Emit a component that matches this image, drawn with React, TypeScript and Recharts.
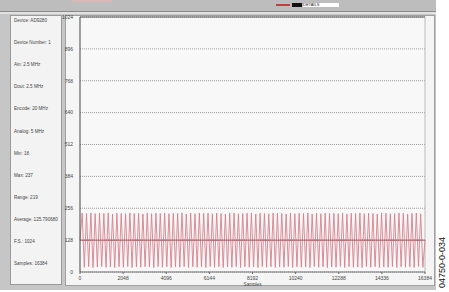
import React from 'react';
import { LineChart, Line, XAxis, YAxis, CartesianGrid, ReferenceLine } from 'recharts';

// info panel text on the left
const infoLabels = [
  'Device: AD9280',
  'Device Number: 1',
  'Ain: 2.5 MHz',
  'Dout: 2.5 MHz',
  'Encode: 20 MHz',
  'Analog: 5 MHz',
  'Min: 18',
  'Max: 237',
  'Range: 219',
  'Average: 125.790680',
  'F.S.: 1024',
  'Samples: 16384',
];

const yTicks = [0, 128, 256, 384, 512, 640, 768, 896, 1024];
const xTicks = [0, 2048, 4096, 6144, 8192, 10240, 12288, 14336, 16384];

// output codes as displayed (decimated capture)
const codes = [
  128, 236, 19, 235, 21, 237, 18, 234, 20, 236, 22, 235, 19, 237, 20, 233,
  18, 236, 21, 235, 19, 234, 22, 237, 18, 235, 20, 236, 19, 233, 21, 237,
  20, 234, 18, 236, 22, 235, 19, 237, 21, 234, 18, 236, 20, 235, 19, 237,
  22, 233, 18, 236, 21, 234, 19, 237, 20, 235, 18, 236, 22, 234, 19, 237,
  21, 235, 18, 233, 20, 236, 19, 237, 22, 234, 18, 235, 21, 236, 19, 237,
  20, 233, 18, 236, 22, 235, 19, 234, 21, 237, 18, 236, 20, 235, 19, 233,
  22, 237, 18, 234, 21, 236, 19, 235, 20, 237, 18, 233, 22, 236, 19, 234,
  21, 237, 18, 235, 20, 236, 19, 234, 22, 237, 18, 233, 21, 236, 19, 235,
  20, 237, 18, 234, 22, 236, 19, 235, 21, 233, 18, 237, 20, 236, 19, 234,
  22, 235, 18, 237, 21, 236, 19, 233, 20, 235, 18, 237, 22, 234, 19, 128,
];

const data = codes.map((v, i) => ({ sample: (i * 16384) / (codes.length - 1), code: v }));

const tickStyle = { fontSize: 5, fill: '#444', fontFamily: 'Arial, Liberation Sans, sans-serif' };

const App: React.FC = () => {
  return (
    <div
      style={{
        position: 'fixed',
        left: 0,
        top: 0,
        width: 449,
        height: 292,
        background: '#fff',
        overflow: 'hidden',
        fontFamily: 'Arial, Liberation Sans, sans-serif',
      }}
    >
      {/* window frame */}
      <div style={{ position: 'absolute', left: 0, top: 0, width: 436, height: 290, background: '#c6c6c6' }} />
      <div style={{ position: 'absolute', left: 0, top: 0, width: 436, height: 11, background: '#bdbdbd' }} />
      <div style={{ position: 'absolute', left: 72, top: 0, width: 40, height: 2, background: '#d8b8b8' }} />
      <div style={{ position: 'absolute', left: 276, top: 4, width: 14, height: 2, background: '#c04040' }} />
      <div style={{ position: 'absolute', left: 292, top: 3, width: 10, height: 4, background: '#111' }} />
      <div style={{ position: 'absolute', left: 303, top: 3, width: 36, height: 4, background: '#fff', fontSize: 4, lineHeight: '4px', color: '#222' }}>DETAILS</div>
      <div style={{ position: 'absolute', left: 0, top: 11, width: 436, height: 1, background: '#8a8a8a' }} />
      <div style={{ position: 'absolute', left: 0, top: 12, width: 436, height: 2, background: '#e2e2e2' }} />

      {/* info panel */}
      <div
        style={{
          position: 'absolute',
          left: 10,
          top: 15,
          width: 50,
          height: 268,
          background: '#f3f3f3',
          border: '1px solid #9a9a9a',
        }}
      >
        {infoLabels.map((t, i) => (
          <div
            key={t}
            style={{
              position: 'absolute',
              left: 3,
              top: 2 + i * 22.1,
              fontSize: 4.6,
              color: '#444',
              whiteSpace: 'nowrap',
            }}
          >
            {t}
          </div>
        ))}
      </div>

      {/* chart panel */}
      <div
        style={{
          position: 'absolute',
          left: 65,
          top: 15,
          width: 368,
          height: 269,
          background: '#f5f5f5',
          border: '1px solid #a0a0a0',
        }}
      />
      <div style={{ position: 'absolute', left: 56, top: 12 }}>
        <LineChart
          width={376}
          height={274}
          data={data}
          margin={{ top: 5, right: 7, left: 0, bottom: 0 }}
        >
          <CartesianGrid
            horizontal
            vertical={false}
            stroke="#9a9a9a"
            strokeDasharray="1 1"
            fill="#f8f8f8"
          />
          <XAxis
            type="number"
            dataKey="sample"
            domain={[0, 16384]}
            ticks={xTicks}
            interval={0}
            tick={tickStyle}
            tickLine={{ stroke: '#666' }}
            tickSize={2}
            axisLine={{ stroke: '#777' }}
            height={14}
            label={{ value: 'Samples', position: 'insideBottom', offset: 0, fontSize: 4.6, fill: '#444' }}
          />
          <YAxis
            type="number"
            domain={[0, 1024]}
            ticks={yTicks}
            interval={0}
            tick={tickStyle}
            tickLine={false}
            tickMargin={1}
            axisLine={{ stroke: '#444' }}
            width={24}
          />
          <ReferenceLine y={1024} stroke="#555" strokeWidth={1} />
          <ReferenceLine x={16384} stroke="#bbb" strokeWidth={1} />
          <Line
            type="linear"
            dataKey="code"
            stroke="#d8808c"
            strokeWidth={0.9}
            dot={false}
            isAnimationActive={false}
          />
          <ReferenceLine y={128} stroke="#a85560" strokeWidth={1} />
        </LineChart>
      </div>

      {/* figure number */}
      <div
        style={{
          position: 'absolute',
          left: 437,
          top: 288,
          transform: 'rotate(-90deg)',
          transformOrigin: 'left top',
          fontSize: 9,
          color: '#111',
          whiteSpace: 'nowrap',
          fontFamily: 'Arial, Liberation Sans, sans-serif',
        }}
      >
        04750-0-034
      </div>
    </div>
  );
};

export default App;
